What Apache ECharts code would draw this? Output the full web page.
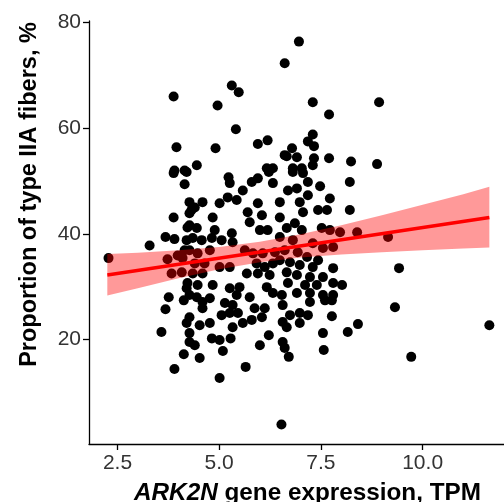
<!DOCTYPE html>
<html>
<head>
<meta charset="utf-8">
<script src="https://cdn.jsdelivr.net/npm/echarts@6/dist/echarts.min.js"></script>
<style>
  html, body { margin: 0; padding: 0; background: #fff; }
  #chart { width: 504px; height: 502px; }
</style>
</head>
<body>
<div id="chart"></div>
<script>
// ARK2N expression (TPM) vs proportion of type IIA fibers (%)
const pointX = [
  3.88, 3.95, 3.90, 4.15, 5.31, 5.48, 4.96, 5.41, 4.91, 5.95, 6.19, 4.45, 6.17, 6.32,
  6.96, 6.61, 7.30, 7.70, 7.30, 7.18, 7.33, 6.61, 6.79, 6.66, 6.91, 7.33, 7.70, 8.24, 6.81, 7.03, 7.30,
  8.93, 8.88,
  3.88, 4.20, 4.15, 4.27, 3.88, 4.27, 4.22, 3.68, 3.90, 4.20, 3.29, 2.28, 4.15, 3.98, 3.73, 4.10,
  3.83, 4.08, 4.22, 4.20, 3.76, 4.13,
  3.68, 4.20, 3.58, 4.27, 4.13, 3.90,
  4.59, 5.14, 5.33, 4.59, 4.27, 4.52, 4.77, 5.06, 5.26, 5.46, 5.87, 6.12, 6.05, 5.80, 5.58, 5.33,
  4.27, 4.40, 4.82, 5.01, 5.28, 5.09, 6.22, 6.00, 4.52, 5.65, 5.01, 6.53,
  6.56, 6.74, 6.98, 7.18, 6.56, 6.66, 6.98, 7.23, 7.60, 7.77, 7.77, 7.55, 8.16, 8.41, 6.56, 6.61, 6.71, 7.57,
  9.32, 9.72, 11.64, 9.15, 9.42,
  5.23, 5.26, 5.58, 5.80, 5.95, 6.22, 6.32, 4.59, 5.01, 5.21, 5.43, 5.95, 4.32, 4.40, 4.84, 5.70, 5.75, 6.05,
  4.27, 4.45, 4.89, 5.31, 6.00, 6.19, 4.35, 4.57, 4.82, 5.06, 5.33, 4.27, 4.47, 4.77, 5.63, 5.83, 6.07, 6.37,
  4.40, 4.64, 5.01, 5.26, 5.92, 6.12, 6.32, 4.35, 4.59, 5.68, 5.95, 6.24, 4.47, 4.84, 5.26, 5.50, 6.17, 6.32,
  4.27, 4.45, 4.77, 5.43, 5.75,
  6.81, 7.06, 7.18, 6.91, 7.48, 8.21, 6.69, 7.18, 7.72, 6.49, 6.98, 7.43, 7.65, 8.21, 7.06, 6.49, 6.86, 6.66,
  7.03, 7.52, 7.72, 7.97, 8.39, 6.49, 6.81, 7.30, 7.55, 7.80, 6.61, 6.93, 7.16, 7.43, 6.49, 6.74, 6.98, 7.30,
  7.80, 6.66, 6.91, 7.23, 7.55, 6.69, 7.11, 7.40, 7.80, 8.02, 6.54, 6.91, 7.23, 7.55, 7.80
];
const pointY = [
  66.0, 56.4, 52.0, 52.0, 68.1, 66.8, 64.3, 59.8, 56.2, 57.0, 57.7, 53.0, 52.4, 52.4,
  76.4, 72.3, 64.9, 62.6, 58.8, 57.5, 56.6, 54.9, 56.2, 54.7, 54.5, 54.3, 54.3, 53.7, 52.4, 52.4, 53.0,
  64.9, 53.2,
  51.5, 51.7, 49.4, 46.0, 43.1, 43.9, 41.2, 39.4, 39.0, 38.8, 37.8, 35.4, 36.9, 35.9, 35.2, 35.4,
  32.5, 32.7, 30.7, 29.7, 28.0, 27.4,
  25.7, 23.1, 21.4, 19.5, 17.2, 14.4,
  27.1, 26.9, 26.5, 25.9, 24.2, 22.7, 23.1, 24.6, 25.0, 25.0, 25.9, 25.9, 24.2, 23.7, 23.1, 22.3,
  21.2, 18.9, 20.2, 19.9, 20.2, 17.8, 20.8, 18.9, 16.5, 14.8, 12.7, 3.9,
  26.5, 24.6, 25.0, 24.6, 23.3, 22.3, 23.1, 27.1, 27.4, 27.4, 24.4, 21.2, 21.4, 22.9, 19.5, 18.4, 16.7, 18.0,
  26.1, 16.7, 22.7, 39.4, 33.5,
  50.7, 49.6, 48.2, 49.8, 50.5, 51.7, 49.6, 46.0, 45.8, 46.9, 46.4, 45.8, 44.5, 45.0, 43.1, 44.1, 42.2, 43.5,
  41.6, 41.1, 40.7, 40.1, 40.7, 40.7, 39.2, 38.8, 39.2, 38.8, 38.4, 36.9, 36.3, 36.9, 36.9, 36.3, 36.3, 36.5,
  34.4, 34.4, 33.7, 33.7, 34.4, 33.7, 34.4, 32.5, 32.5, 32.5, 32.5, 32.2, 30.3, 30.3, 29.7, 29.9, 29.9, 28.8,
  28.4, 28.0, 27.8, 28.4, 28.0,
  51.7, 51.5, 49.8, 48.6, 49.0, 49.8, 48.2, 47.3, 46.7, 46.0, 46.0, 44.5, 44.5, 44.5, 44.1, 43.1, 42.0, 41.1,
  40.7, 41.1, 40.7, 40.3, 40.3, 39.4, 38.8, 38.2, 37.3, 37.5, 36.9, 36.5, 35.6, 35.0, 35.0, 34.6, 34.1, 33.7,
  33.5, 32.7, 32.2, 31.8, 31.8, 30.7, 30.3, 30.3, 30.7, 30.3, 28.4, 28.8, 28.8, 28.4, 28.4
];

// linear fit and its confidence band
const fitX = [2.25, 11.64];
const fitY = [32.2, 43.1];
const bandX = [2.25, 3, 4, 5, 6, 7, 8, 9, 10, 11, 11.64];
const bandLow = [28.3, 29.7, 31.6, 33.3, 34.6, 35.5, 36.1, 36.5, 36.9, 37.2, 37.4];
const bandHigh = [36.2, 36.4, 36.9, 37.5, 38.5, 39.9, 41.6, 43.5, 45.5, 47.5, 48.9];

const xTicks = [2.5, 5, 7.5, 10];
const yTicks = [20, 40, 60, 80];

const chart = echarts.init(document.getElementById('chart'), null, { renderer: 'canvas' });

const points = pointX.map((x, i) => [x, pointY[i]]);
const fitLine = fitX.map((x, i) => [x, fitY[i]]);

const axisCommon = {
  axisLine: { lineStyle: { color: '#000', width: 1.3 } },
  axisTick: { length: 6, lineStyle: { color: '#000', width: 1.3 } },
  splitLine: { show: false },
  axisLabel: { color: '#333', fontSize: 21, fontFamily: 'Liberation Sans' }
};
const titleFont = { fontSize: 23.5, fontWeight: 'bold', fontFamily: 'Liberation Sans', color: '#000' };
const xTitleFont = { ...titleFont, fontSize: 24.3 };

const option = {
  animation: false,
  grid: { left: 89, right: 0, top: 21, bottom: 58, outerBoundsMode: 'none' },
  xAxis: {
    type: 'value',
    min: 1.8,
    max: 12.0,
    ...axisCommon,
    axisTick: { ...axisCommon.axisTick, customValues: xTicks },
    axisLabel: {
      ...axisCommon.axisLabel,
      margin: 9,
      customValues: xTicks,
      formatter: v => v.toFixed(1)
    },
    name: '{i|ARK2N}{b| gene expression, TPM}',
    nameLocation: 'middle',
    nameGap: 37,
    nameTextStyle: {
      padding: [0, 0, 0, 22],
      rich: {
        i: { ...xTitleFont, fontStyle: 'italic' },
        b: xTitleFont
      }
    }
  },
  yAxis: {
    type: 'value',
    min: 0.2,
    max: 80.3,
    ...axisCommon,
    axisTick: { ...axisCommon.axisTick, customValues: yTicks },
    axisLabel: { ...axisCommon.axisLabel, margin: 8, customValues: yTicks },
    name: 'Proportion of type IIA fibers, %',
    nameLocation: 'middle',
    nameGap: 47,
    nameTextStyle: { ...titleFont, padding: [0, 0, 0, 76] }
  },
  series: [
    {
      type: 'scatter',
      data: points,
      symbolSize: 10,
      itemStyle: { color: '#000', opacity: 1 },
      z: 2
    },
    {
      type: 'custom',
      data: [0],
      z: 3,
      renderItem: (params, api) => {
        const upper = bandX.map((x, i) => api.coord([x, bandHigh[i]]));
        const lower = bandX.map((x, i) => api.coord([x, bandLow[i]])).reverse();
        return {
          type: 'polygon',
          shape: { points: upper.concat(lower) },
          style: { fill: 'rgba(255,0,0,0.4)' }
        };
      }
    },
    {
      type: 'line',
      data: fitLine,
      symbol: 'none',
      lineStyle: { color: '#ff0000', width: 3.5 },
      z: 4
    }
  ]
};

chart.setOption(option);
</script>
</body>
</html>
